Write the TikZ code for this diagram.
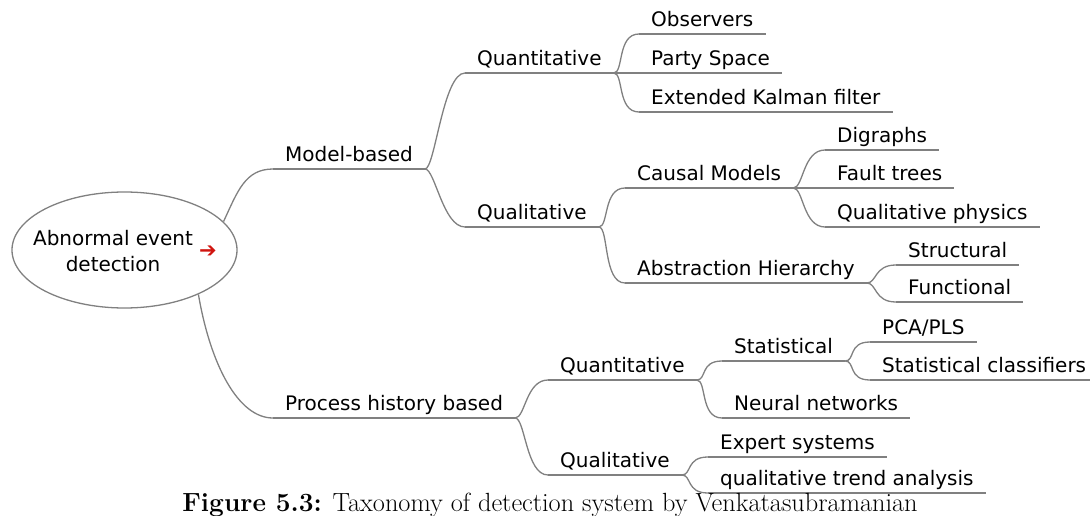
\documentclass[tikz,border=0pt]{standalone}
\usepackage{fontspec}
\usetikzlibrary{shapes.geometric}
\newfontfamily\mapfont{DejaVu Sans}
\definecolor{twiggray}{HTML}{808080}
\definecolor{cuered}{HTML}{D01510}

\begin{document}
\begin{tikzpicture}[x=1pt,y=1pt,
  twig/.style={twiggray,line width=1.3pt},
  sprout/.style={to path={.. controls +(10,0) and +(-22,0) .. (\tikztotarget)}},
  topic/.style={anchor=south west,inner xsep=12pt,inner ysep=4pt,text height=15pt,text depth=3pt,
    font=\mapfont\fontsize{20}{24}\selectfont},
  hub/.style={draw=twiggray,line width=1.3pt,ellipse,minimum width=225pt,minimum height=116pt,inner sep=0pt}]
\useasboundingbox (0,0) rectangle (1090,-516);
\node[hub] (root) at (124.5,-250) {};
\node[inner sep=0pt,align=center,font=\mapfont\fontsize{20}{26}\selectfont] (roottext) at (113,-251.5) {Abnormal event\\detection};
\node[inner sep=0pt,text=cuered,font=\mapfont\fontsize{21}{21}\selectfont] (rootcue) at (208,-251.5) {➔};
\node[topic] (mb) at (273,-169) {Model-based};
\node[topic] (ph) at (273,-418) {Process history based};
\node[topic] (mbqn) at (465,-73) {Quantitative};
\node[topic] (mbql) at (465,-227) {Qualitative};
\node[topic] (obs) at (639,-34) {Observers};
\node[topic] (party) at (639,-73) {Party Space};
\node[topic] (ekf) at (639,-112) {Extended Kalman filter};
\node[topic] (causal) at (625,-188) {Causal Models};
\node[topic] (abstr) at (625,-283) {Abstraction Hierarchy};
\node[topic] (digr) at (825,-150) {Digraphs};
\node[topic] (fault) at (825,-188) {Fault trees};
\node[topic] (qphys) at (825,-227) {Qualitative physics};
\node[topic] (struct) at (896,-265) {Structural};
\node[topic] (funct) at (896,-302) {Functional};
\node[topic] (phqn) at (548,-380) {Quantitative};
\node[topic] (phql) at (548,-475) {Qualitative};
\node[topic] (stat) at (722,-361) {Statistical};
\node[topic] (neural) at (722,-418) {Neural networks};
\node[topic] (pca) at (870,-342) {PCA/PLS};
\node[topic] (statcl) at (870,-380) {Statistical classifiers};
\node[topic] (expert) at (708,-457) {Expert systems};
\node[topic] (trend) at (708,-493) {qualitative trend analysis};
\foreach \n in {mb,ph,mbqn,mbql,obs,party,ekf,causal,abstr,digr,fault,qphys,struct,funct,phqn,phql,stat,neural,pca,statcl,expert,trend}
  \draw[twig] (\n.south west) -- (\n.south east);
\draw[twig] (root.16) .. controls +(14,30) and +(-28,0) .. (mb.south west);
\draw[twig] (root.-31) .. controls +(12,-70) and +(-35,0) .. (ph.south west);
\foreach \a/\b in {mb/mbqn,mb/mbql,mbqn/obs,mbqn/party,mbqn/ekf,mbql/causal,mbql/abstr,causal/digr,causal/fault,causal/qphys,abstr/struct,abstr/funct,ph/phqn,ph/phql,phqn/stat,phqn/neural,stat/pca,stat/statcl,phql/expert,phql/trend}
  \draw[twig] (\a.south east) to[sprout] (\b.south west);
\node[anchor=base,font=\fontsize{26.3}{30}\selectfont] (caption) at (550,-511) {\textbf{Figure 5.3:} Taxonomy of detection system by Venkatasubramanian};
\end{tikzpicture}
\end{document}
